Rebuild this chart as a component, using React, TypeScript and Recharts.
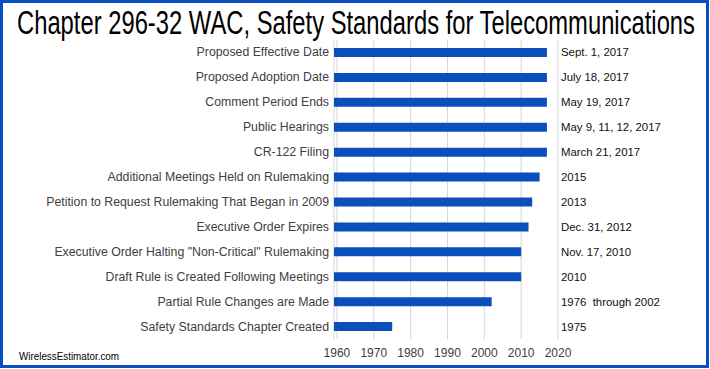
import React from "react";
import { BarChart, Bar, XAxis, YAxis, CartesianGrid } from "recharts";

const categories = [
  "Proposed Effective Date",
  "Proposed Adoption Date",
  "Comment Period Ends",
  "Public Hearings",
  "CR-122 Filing",
  "Additional Meetings Held on Rulemaking",
  "Petition to Request Rulemaking That Began in 2009",
  "Executive Order Expires",
  'Executive Order Halting "Non-Critical" Rulemaking',
  "Draft Rule is Created Following Meetings",
  "Partial Rule Changes are Made",
  "Safety Standards Chapter Created",
];

const years = [2017, 2017, 2017, 2017, 2017, 2015, 2013, 2012, 2010, 2010, 2002, 1975];

const dateLabels = [
  "Sept. 1, 2017",
  "July 18, 2017",
  "May 19, 2017",
  "May 9, 11, 12, 2017",
  "March 21, 2017",
  "2015",
  "2013",
  "Dec. 31, 2012",
  "Nov. 17, 2010",
  "2010",
  "1976  through 2002",
  "1975",
];

const xTicks = [1960, 1970, 1980, 1990, 2000, 2010, 2020];

const data = categories.map((c, i) => ({ name: c, year: years[i], label: dateLabels[i] }));

const FONT = "'Liberation Sans', Arial, sans-serif";
const NARROW = "'Liberation Sans Narrow', 'Arial Narrow', 'Liberation Sans', sans-serif";
const BLUE = "#0b4fbf";

const LeftTick = (props: any) => {
  const { x, y, payload } = props;
  return (
    <text x={x} y={y} dy={4} textAnchor="end" fontFamily={FONT} fontSize={12.3} fill="#404040">
      {payload.value}
    </text>
  );
};

const RightTick = (props: any) => {
  const { x, y, payload } = props;
  return (
    <text x={x} y={y} dy={4} textAnchor="start" fontFamily={FONT} fontSize={11.4} fill="#111" style={{ whiteSpace: "pre" }}>
      {payload.value}
    </text>
  );
};

const BottomTick = (props: any) => {
  const { x, y, payload } = props;
  return (
    <text x={x} y={y} dy={10} textAnchor="middle" fontFamily={FONT} fontSize={12} fill="#404040">
      {payload.value}
    </text>
  );
};

export default function App() {
  return (
    <div style={{ position: "fixed", left: 0, top: 0, width: 710, height: 369, background: "#fff" }}>
      <BarChart
        width={710}
        height={369}
        data={data}
        layout="vertical"
        margin={{ top: 40, right: 0, bottom: 0, left: 0 }}
        barCategoryGap={8}
      >
        <CartesianGrid horizontal={false} vertical stroke="#d4d4d4" />
        <XAxis
          type="number"
          dataKey="year"
          domain={[1959.2, 2020]}
          allowDataOverflow
          ticks={xTicks}
          interval={0}
          axisLine={false}
          tickLine={false}
          tick={<BottomTick />}
          height={30}
          tickMargin={2}
        />
        <YAxis
          yAxisId="left"
          type="category"
          dataKey="name"
          width={334}
          axisLine={false}
          tickLine={false}
          tickSize={3}
          tickMargin={2}
          tick={<LeftTick />}
          interval={0}
        />
        <YAxis
          yAxisId="right"
          orientation="right"
          type="category"
          dataKey="label"
          width={152}
          axisLine={false}
          tickLine={false}
          tickSize={0}
          tickMargin={3}
          tick={<RightTick />}
          interval={0}
        />
        <Bar dataKey="year" yAxisId="left" fill={BLUE} barSize={9} isAnimationActive={false} />
      </BarChart>
      <svg width={710} height={369} style={{ position: "absolute", left: 0, top: 0, pointerEvents: "none" }}>
        <g transform="scale(1,1.4)">
          <text x={17} y={24.3} fontFamily={FONT} fontSize={23.6} fill="#000" textLength={678} lengthAdjust="spacingAndGlyphs">
            Chapter 296-32 WAC, Safety Standards for Telecommunications
          </text>
        </g>
        <text x={19} y={360} fontFamily={FONT} fontSize={10} fill="#000" textLength={100} lengthAdjust="spacingAndGlyphs">
          WirelessEstimator.com
        </text>
        <rect x={1.5} y={1.5} width={706} height={365} fill="none" stroke={BLUE} strokeWidth={3} />
      </svg>
    </div>
  );
}
